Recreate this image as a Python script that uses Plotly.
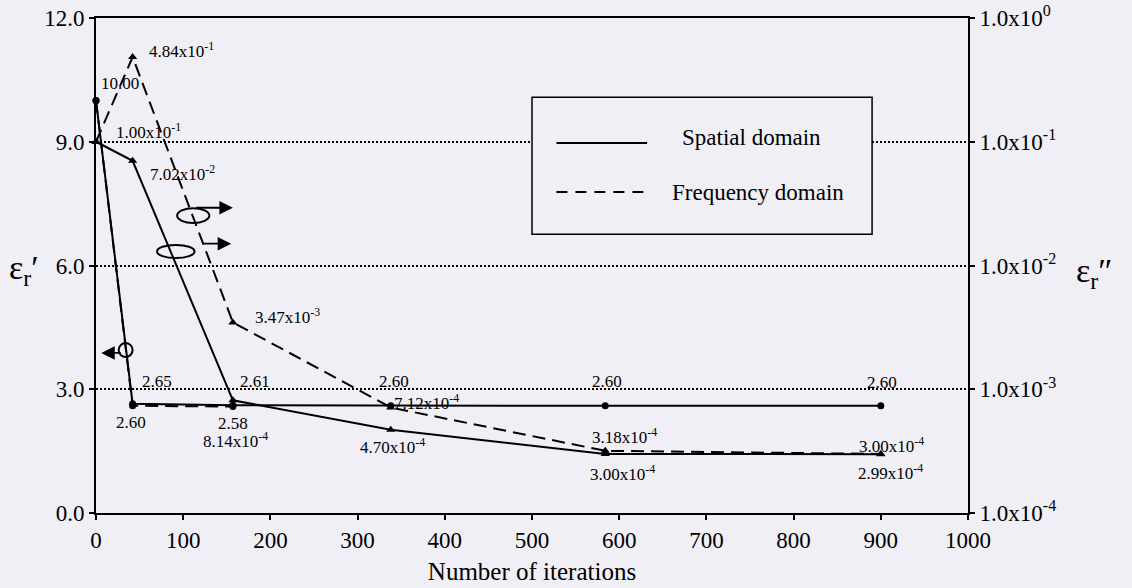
import math
import plotly.graph_objects as go

# Iteration counts at which the permittivity was evaluated
iterations = [0, 42, 157, 338, 584, 900]
iterations_freq_eps1 = [0, 42, 157]

# Real part (left axis) and imaginary part (right axis, log scale)
eps1_spatial = [10.00, 2.65, 2.61, 2.60, 2.60, 2.60]
eps1_frequency = [10.00, 2.60, 2.58]
eps2_spatial = [1.00e-1, 7.02e-2, 8.14e-4, 4.70e-4, 3.00e-4, 2.99e-4]
eps2_frequency = [1.00e-1, 4.84e-1, 3.47e-3, 7.12e-4, 3.18e-4, 3.00e-4]

x_ticks = list(range(0, 1001, 100))
left_ticks = [0.0, 3.0, 6.0, 9.0, 12.0]
right_ticks = [1e-4, 1e-3, 1e-2, 1e-1, 1e0]

legend_names = ["Spatial domain", "Frequency domain"]

# (xanchor, xshift, yshift) of each value label; None = no label
pos_eps1_spatial = [("left", 3, 17), ("left", 7, 22), ("left", 5, 24),
                    ("center", 3, 24), ("center", 2, 24), ("center", 1, 23)]
pos_eps1_frequency = [None, ("center", -2, -17), ("center", 0, -17)]
pos_eps2_spatial = [("left", 18, 11), ("left", 15, -12), ("center", 3, -40),
                    ("center", 2, -16), ("center", 17, -19), ("center", 10, -18)]
pos_eps2_frequency = [None, ("left", 14, 7), ("left", 20, 6), ("left", 1, 6),
                      ("center", 19, 15), ("center", 11, 9)]

FONT = "Liberation Serif"
BG = "#f0eff6"
DASH = "13px,7px"


def sci(v):
    e = math.floor(math.log10(v) + 1e-9)
    m = v / 10 ** e
    return f"{m:.2f}x10<sup>{e}</sup>"


def pow_label(v):
    e = round(math.log10(v))
    return f"1.0x10<sup>{e}</sup>"


fig = go.Figure()

line_style = dict(color="black", width=2)
fig.add_trace(go.Scatter(x=iterations, y=eps1_spatial, mode="lines+markers",
                         line=line_style, marker=dict(symbol="circle", size=7, color="black"),
                         showlegend=False, cliponaxis=False))
fig.add_trace(go.Scatter(x=iterations_freq_eps1, y=eps1_frequency, mode="lines+markers",
                         line=dict(color="black", width=2, dash=DASH),
                         marker=dict(symbol="circle", size=7, color="black"),
                         showlegend=False, cliponaxis=False))
fig.add_trace(go.Scatter(x=iterations, y=eps2_spatial, mode="lines+markers", yaxis="y2",
                         line=line_style, marker=dict(symbol="triangle-up", size=8, color="black"),
                         showlegend=False, cliponaxis=False))
fig.add_trace(go.Scatter(x=iterations, y=eps2_frequency, mode="lines+markers", yaxis="y2",
                         line=dict(color="black", width=2, dash=DASH),
                         marker=dict(symbol="triangle-up", size=8, color="black"),
                         showlegend=False, cliponaxis=False))

annotations = []


def add_labels(xs, ys, positions, yref, fmt, log=False):
    for x, y, p in zip(xs, ys, positions):
        if p is None:
            continue
        anchor, dx, dy = p
        annotations.append(dict(
            x=x, y=math.log10(y) if log else y, xref="x", yref=yref,
            text=fmt(y), showarrow=False, xanchor=anchor, yanchor="middle",
            xshift=dx, yshift=dy, font=dict(family=FONT, size=17, color="black")))


add_labels(iterations, eps1_spatial, pos_eps1_spatial, "y", lambda v: f"{v:.2f}")
add_labels(iterations_freq_eps1, eps1_frequency, pos_eps1_frequency, "y", lambda v: f"{v:.2f}")
add_labels(iterations, eps2_spatial, pos_eps2_spatial, "y2", sci, log=True)
add_labels(iterations, eps2_frequency, pos_eps2_frequency, "y2", sci, log=True)

# Axis-assignment arrows
arrow = dict(showarrow=True, text="", arrowhead=2, arrowsize=1.5, arrowwidth=1.8,
             arrowcolor="black", xref="x", yref="y", axref="x", ayref="y")
annotations.append(dict(arrow, x=157, y=7.40, ax=113, ay=7.40))
annotations.append(dict(arrow, x=155, y=6.53, ax=121, ay=6.53))
annotations.append(dict(arrow, x=6, y=3.88, ax=30, ay=3.88))

# Axis titles
annotations.append(dict(text="ε<sub>r</sub>′", xref="paper", yref="paper", x=-0.102, y=0.49,
                        showarrow=False, font=dict(family=FONT, size=34, color="black")))
annotations.append(dict(text="ε<sub>r</sub>″", xref="paper", yref="paper", x=1.168, y=0.485,
                        showarrow=False, font=dict(family=FONT, size=34, color="black")))

# Legend text
annotations.append(dict(text=legend_names[0], x=670, y=9.11, xref="x", yref="y", xanchor="left",
                        showarrow=False, font=dict(family=FONT, size=23, color="black")))
annotations.append(dict(text=legend_names[1], x=658, y=7.78, xref="x", yref="y", xanchor="left",
                        showarrow=False, font=dict(family=FONT, size=23, color="black")))

shapes = [
    # ellipses marking which curves belong to which axis
    dict(type="circle", xref="x", yref="y", x0=93, x1=130, y0=7.03, y1=7.39,
         line=dict(color="black", width=2)),
    dict(type="circle", xref="x", yref="y", x0=70, x1=113, y0=6.18, y1=6.50,
         line=dict(color="black", width=2)),
    dict(type="circle", xref="x", yref="y", x0=26, x1=42, y0=3.78, y1=4.12,
         line=dict(color="black", width=2)),
    # legend box and samples
    dict(type="rect", xref="x", yref="y", x0=500, x1=890, y0=6.76, y1=10.08,
         fillcolor=BG, line=dict(color="black", width=1.5), layer="above"),
    dict(type="line", xref="x", yref="y", x0=528, x1=632, y0=8.97, y1=8.97,
         line=dict(color="black", width=2), layer="above"),
    dict(type="line", xref="x", yref="y", x0=528, x1=632, y0=7.78, y1=7.78,
         line=dict(color="black", width=2, dash="11px,8px"), layer="above"),
]

tick_font = dict(family=FONT, size=23, color="black")
fig.update_layout(
    width=1132, height=588,
    margin=dict(l=96, r=164, t=18, b=75),
    paper_bgcolor=BG, plot_bgcolor=BG,
    showlegend=False,
    annotations=annotations,
    shapes=shapes,
    xaxis=dict(range=[0, 1000], tickvals=x_ticks, ticks="outside", ticklen=5, tickwidth=1.5,
               tickcolor="black", showline=True, linecolor="black", linewidth=2, mirror=True,
               showgrid=False, zeroline=False, tickfont=tick_font, automargin=False,
               title=dict(text="Number of iterations", font=dict(family=FONT, size=25, color="black"),
                          standoff=11)),
    yaxis=dict(range=[0, 12], tickvals=left_ticks, tickformat=".1f", ticks="outside", ticklen=5,
               tickwidth=1.5, tickcolor="black", showline=True, linecolor="black", linewidth=2,
               mirror=True, showgrid=True, gridcolor="black", gridwidth=1.5, griddash="2px,2px",
               zeroline=False, tickfont=tick_font, automargin=False),
    yaxis2=dict(type="log", range=[-4, 0], overlaying="y", side="right", tickvals=right_ticks,
                ticktext=[pow_label(v) for v in right_ticks], ticks="outside", ticklen=5,
                tickwidth=1.5, tickcolor="black", showline=True, linecolor="black", linewidth=2,
                showgrid=False, zeroline=False, tickfont=tick_font, automargin=False),
)

fig.write_html("out.html")
